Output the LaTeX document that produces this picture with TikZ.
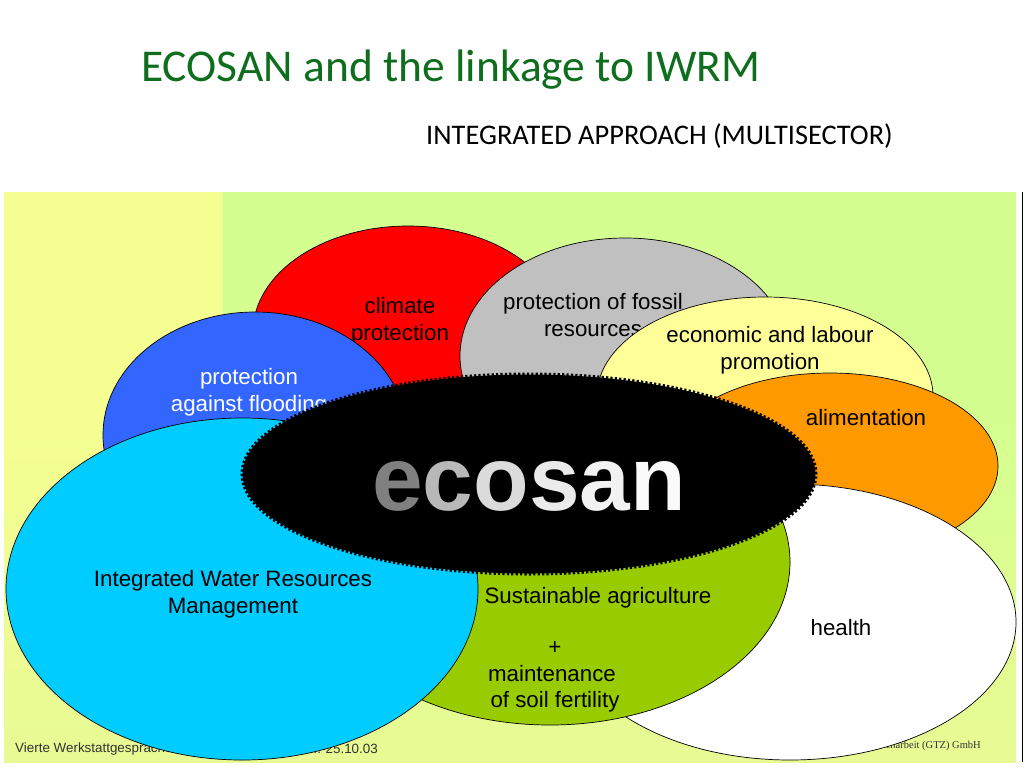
\documentclass[tikz,border=0pt]{standalone}
\usepackage{fontspec}
\setmainfont{Liberation Sans}
\newfontfamily\titlefont{Carlito}
\newfontfamily\gtzfont{Liberation Serif}
\usetikzlibrary{positioning,shapes.geometric}
\definecolor{titlegreen}{RGB}{15,110,30}
\definecolor{bgyellow}{RGB}{245,255,145}
\definecolor{bggreen}{RGB}{212,255,144}
\definecolor{bgbottom}{RGB}{232,250,148}
\definecolor{myred}{RGB}{255,0,0}
\definecolor{mygray}{RGB}{192,192,192}
\definecolor{myyellow}{RGB}{255,255,153}
\definecolor{myorange}{RGB}{255,153,0}
\definecolor{myblue}{RGB}{51,102,255}
\definecolor{mycyan}{RGB}{0,204,255}
\definecolor{mygreen}{RGB}{153,204,0}
\tikzset{
blob/.style={
  ellipse,
  inner sep=0pt,
  line width=0.7pt,
  draw=black,
  }
}
\tikzset{
blobtext/.style={
  font=\fontsize{22.3}{27}\selectfont,
  align=center,
  inner sep=0pt,
  text=black,
  }
}
\tikzset{
foottext/.style={
  inner sep=0pt,
  text=black!80,
  font=\fontsize{13.4}{13.4}\selectfont,
  }
}
\begin{document}
\begin{tikzpicture}[x=1pt,y=-1pt]
    \useasboundingbox (0,0) rectangle (1024,768);

    % background
    \path [fill=white] (0,0) rectangle (1024,768);
    \path [fill=bggreen] (4,192) rectangle (1016,762);
    \path [fill=bgyellow] (4,192) rectangle (223,420);
    \path [top color=bggreen, bottom color=bgbottom] (223,420) rectangle (1016,762);
    \path [top color=bgyellow, bottom color=bgbottom] (4,420) rectangle (223,762);
    \draw [line width=1.2pt] (1022.5,192) -- (1022.5,762);

    % title
    \node[anchor=west, inner sep=0pt, text=titlegreen, font=\titlefont\fontsize{45.5}{45.5}\selectfont] (title) at (141,70) {ECOSAN and the linkage to IWRM};
    \node[anchor=west, inner sep=0pt, font=\titlefont\fontsize{28.4}{28.4}\selectfont] (subtitle) at (426,136) {INTEGRATED APPROACH (MULTISECTOR)};

    % footer
    \node[foottext, anchor=west] (footleft) at (15,749) {Vierte Werkstattgespräche};
    \node[foottext, anchor=east] (footdate) at (378,749) {24.-25.10.03};
    \node[anchor=east, inner sep=0pt, text=black!80, font=\gtzfont\fontsize{10.5}{10.5}\selectfont] (footright) at (981,746) {Zusammenarbeit (GTZ) GmbH};

    % outer ring
    \node[blob, fill=myred, minimum width=310pt, minimum height=212pt] (climate) at (408,332) {};
    \node[blobtext] (climatetxt) at (400,321) {climate\\protection};
    \node[blob, fill=myblue, minimum width=304pt, minimum height=246pt] (flood) at (255,435) {};
    \node[blobtext, text=white] (floodtxt) at (249,392) {protection\\against flooding};
    \node[blob, fill=mygray, minimum width=330pt, minimum height=236pt] (fossil) at (625,356) {};
    \node[blobtext] (fossiltxt) at (593,315) {protection of fossil\\resources};
    \node[blob, fill=myyellow, minimum width=336pt, minimum height=198pt] (labour) at (765,396) {};
    \node[blobtext] (labourtxt) at (770,350) {economic and labour\\promotion};
    \node[blob, fill=myorange, minimum width=336pt, minimum height=186pt] (food) at (830,466) {};
    \node[blobtext] (foodtxt) at (866,418) {alimentation};
    \node[blob, fill=white, minimum width=452pt, minimum height=276pt] (health) at (790,622) {};
    \node[blobtext] (healthtxt) at (841,628) {health};
    \node[blob, fill=mygreen, minimum width=480pt, minimum height=326pt] (soil) at (550,562) {};
    \node[blobtext] (soiltxt) at (598,598) {Sustainable agriculture};
    \node[blobtext] (plustxt) at (555,648) {+};
    \node[blobtext] (maintxt) at (552,674) {maintenance};
    \node[blobtext] (fertiltxt) at (555,702) {of soil fertility};
    \node[blob, fill=mycyan, minimum width=472pt, minimum height=342pt] (iwrm) at (242,589) {};
    \node[blobtext] (iwrmtxt) at (233,594) {Integrated Water Resources\\Management};

    % centre
    \node[blob, fill=black, line width=4pt, dash pattern=on 2.2pt off 2.2pt, minimum width=573pt, minimum height=199pt] (eco) at (529,474) {};
    \node[inner sep=0pt, font=\bfseries\fontsize{91}{91}\selectfont] (ecotxt) at (529,486) {\textcolor[gray]{0.5}{e}\textcolor[gray]{0.72}{c}\textcolor[gray]{0.86}{o}\textcolor[gray]{0.92}{s}\textcolor[gray]{0.95}{a}\textcolor[gray]{0.98}{n}};
\end{tikzpicture}
\end{document}
